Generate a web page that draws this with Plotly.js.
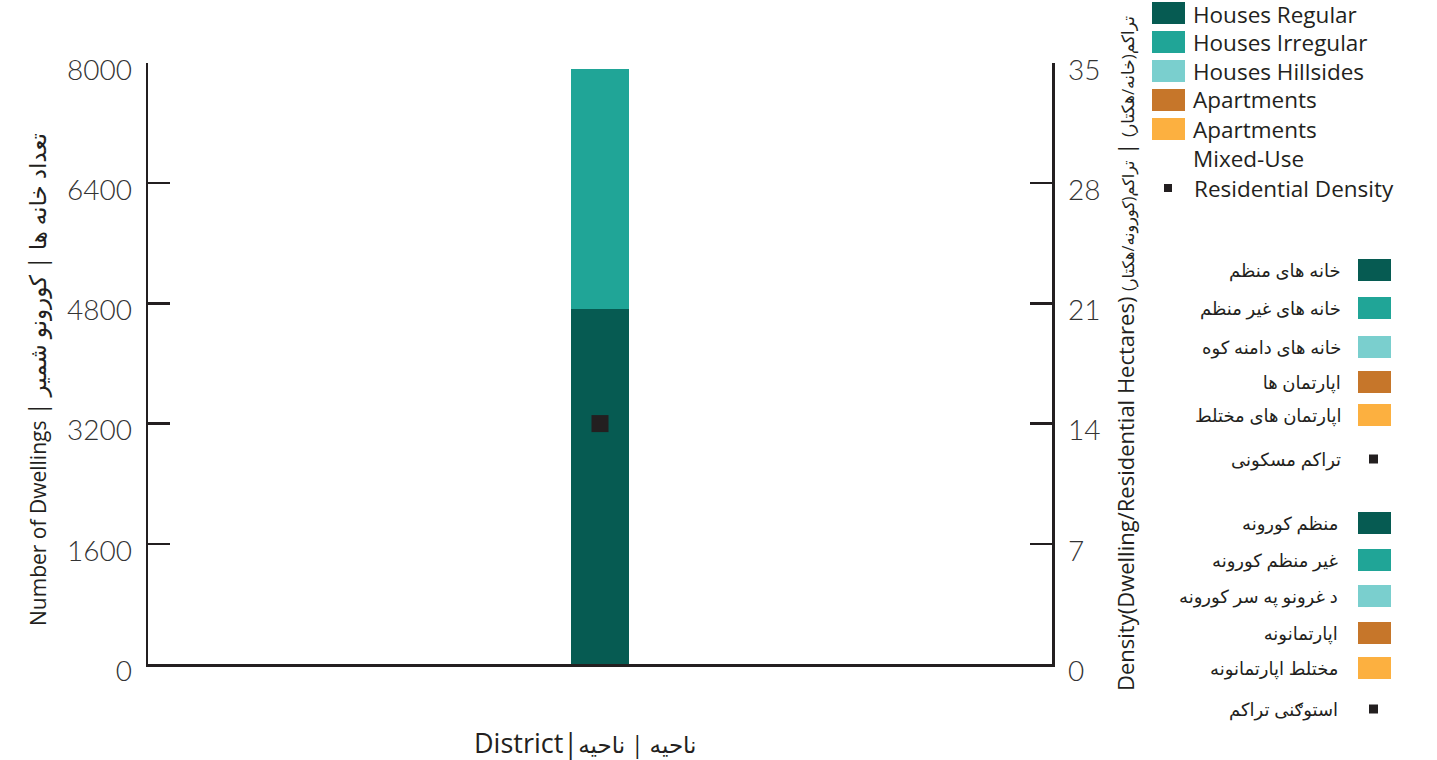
<!DOCTYPE html>
<html>
<head>
<meta charset="utf-8">
<script src="https://cdn.plot.ly/plotly-3.0.1.min.js"></script>
<style>html,body{margin:0;padding:0;background:#fff;}#chart{width:1437px;height:760px;}</style>
</head>
<body>
<div id="chart"></div>
<script>
// ---- data ----
const categories = ["ناحیه"];
const seriesNamesEn = ["Houses Regular", "Houses Irregular", "Houses Hillsides", "Apartments", "Apartments<br>Mixed-Use"];
const seriesNamesFa = ["خانه های منظم", "خانه های غیر منظم", "خانه های دامنه کوه", " اپارتمان ها", "اپارتمان های مختلط"];
const seriesNamesPs = ["منظم کورونه", "غیر منظم کورونه", "د غرونو په سر کورونه", " اپارتمانونه", "مختلط اپارتمانونه"];
const housesRegular = [4725];
const housesIrregular = [3195];
const housesHillsides = [0];
const apartments = [0];
const apartmentsMixed = [0];
const densityNameEn = "Residential Density";
const densityNameFa = "تراکم مسکونی";
const densityNamePs = "استوګنی تراکم";
const residentialDensity = [14.0];
const leftTicks = [0, 1600, 3200, 4800, 6400, 8000];
const rightTicks = [0, 7, 14, 21, 28, 35];

// ---- styles ----
const colors = ["#065b52", "#20a597", "#7acfce", "#c6762a", "#fcb040"];
const markColor = "#231f20";
const FONT = '"Open Sans", "DejaVu Sans", sans-serif';
const TICKFONT = 'Lato, "Open Sans", sans-serif';
const textColor = "#231f20";

const seriesValues = [housesRegular, housesIrregular, housesHillsides, apartments, apartmentsMixed];
const traces = seriesValues.map((vals, i) => ({
  type: "bar", x: categories, y: vals, name: seriesNamesEn[i],
  marker: {color: colors[i], line: {width: 0}}, width: 0.065, showlegend: false
}));
traces.push({
  type: "scatter", mode: "markers", x: categories, y: residentialDensity, yaxis: "y2",
  name: densityNameEn, marker: {symbol: "square", size: 17, color: markColor}, showlegend: false
});

// pixel -> paper helpers
const L = 148, R = 1052, T = 63, B = 664;
const px = p => (p - L) / (R - L);
const py = p => (B - p) / (B - T);

const shapes = [];
const annotations = [];

// English legend
const enRows = [13, 42, 71, 100, 129];
seriesNamesEn.forEach((n, i) => {
  shapes.push({type: "rect", xref: "paper", yref: "paper", x0: px(1152), x1: px(1185),
    y0: py(enRows[i] - 11), y1: py(enRows[i] + 11), fillcolor: colors[i], line: {width: 0}});
  annotations.push({xref: "paper", yref: "paper", x: px(1192), y: py(i === 4 ? 143.5 : (i === 0 ? 14 : enRows[i])),
    xanchor: "left", yanchor: "middle", text: n, showarrow: false, align: "left", borderpad: 0,
    font: {family: FONT, size: 22.5, color: textColor}});
});
shapes.push({type: "rect", xref: "paper", yref: "paper", x0: px(1164), x1: px(1172),
  y0: py(184), y1: py(192), fillcolor: markColor, line: {width: 0}});
annotations.push({xref: "paper", yref: "paper", x: px(1192), y: py(188), xanchor: "left", yanchor: "middle",
  text: densityNameEn, showarrow: false, font: {family: FONT, size: 22.5, color: textColor}});

// Persian / Pashto legends
function rtlLegend(names, rows, markY, textRight, dens) {
  names.forEach((n, i) => {
    shapes.push({type: "rect", xref: "paper", yref: "paper", x0: px(1358), x1: px(1391),
      y0: py(rows[i] - 11), y1: py(rows[i] + 11), fillcolor: colors[i], line: {width: 0}});
    annotations.push({xref: "paper", yref: "paper", x: px(textRight), y: py(rows[i]),
      xanchor: "right", yanchor: "middle", text: n, showarrow: false,
      font: {family: FONT, size: 18, color: textColor}});
  });
  shapes.push({type: "rect", xref: "paper", yref: "paper", x0: px(1369), x1: px(1378),
    y0: py(markY - 4.5), y1: py(markY + 4.5), fillcolor: markColor, line: {width: 0}});
  annotations.push({xref: "paper", yref: "paper", x: px(textRight), y: py(markY),
    xanchor: "right", yanchor: "middle", text: dens, showarrow: false,
    font: {family: FONT, size: 18, color: textColor}});
}
rtlLegend(seriesNamesFa, [270, 308, 347, 382, 415], 459, 1343, densityNameFa);
rtlLegend(seriesNamesPs, [523, 560, 596, 633, 668], 709, 1340, densityNamePs);

// axis titles (as annotations for exact placement)
annotations.push({xref: "paper", yref: "paper", x: px(1125), y: py(354), xanchor: "center", yanchor: "middle",
  textangle: -90, showarrow: false, borderpad: 0,
  text: "Density(Dwelling/Residential Hectares) <span style='font-size:16px'>\u200Eتراکم(کورونه/هکتار)\u200E</span> \u200E|\u200E <span style='font-size:17px'>\u200Eتراکم(خانه/هکتار)</span>",
  font: {family: FONT, size: 22, color: textColor}});
annotations.push({xref: "paper", yref: "paper", x: px(37), y: py(380), xanchor: "center", yanchor: "middle",
  textangle: -90, showarrow: false,
  text: "Number of Dwellings <span style='font-size:23px'>\u200E|\u200E کورونو شمیر\u200E | \u200Eتعداد خانه ها</span>",
  font: {family: FONT, size: 21, color: textColor}});
annotations.push({xref: "paper", yref: "paper", x: px(585), y: py(743), xanchor: "center", yanchor: "middle",
  showarrow: false,
  text: "<span style='font-size:27px'>District|</span>ناحیه | ناحیه",
  font: {family: FONT, size: 23, color: textColor}});

const axisLine = {showline: true, linecolor: markColor, linewidth: 2.5};
const tickStyle = {
  ticks: "inside", ticklen: 22, tickwidth: 2.5, tickcolor: markColor,
  showgrid: false, zeroline: false, ticklabelstandoff: 8, ticklabelshift: 7,
  tickfont: {family: TICKFONT, size: 28, weight: 300, color: "#333"}
};
const layout = {
  width: 1437, height: 760,
  margin: {l: L, r: 1437 - R, t: T, b: 760 - B, pad: 0},
  paper_bgcolor: "#fff", plot_bgcolor: "#fff",
  barmode: "stack", showlegend: false,
  font: {family: FONT, color: textColor},
  xaxis: Object.assign({}, axisLine, {
    showticklabels: false, ticks: "", showgrid: false, zeroline: false
  }),
  yaxis: Object.assign({}, axisLine, tickStyle, {
    range: [0, 8000], tickvals: leftTicks, ticktext: leftTicks.map(String)
  }),
  yaxis2: Object.assign({}, axisLine, tickStyle, {
    overlaying: "y", side: "right", range: [0, 35], tickvals: rightTicks, ticktext: rightTicks.map(String)
  }),
  shapes: shapes,
  annotations: annotations
};
Plotly.newPlot("chart", traces, layout, {displayModeBar: false, staticPlot: true});
</script>
</body>
</html>
